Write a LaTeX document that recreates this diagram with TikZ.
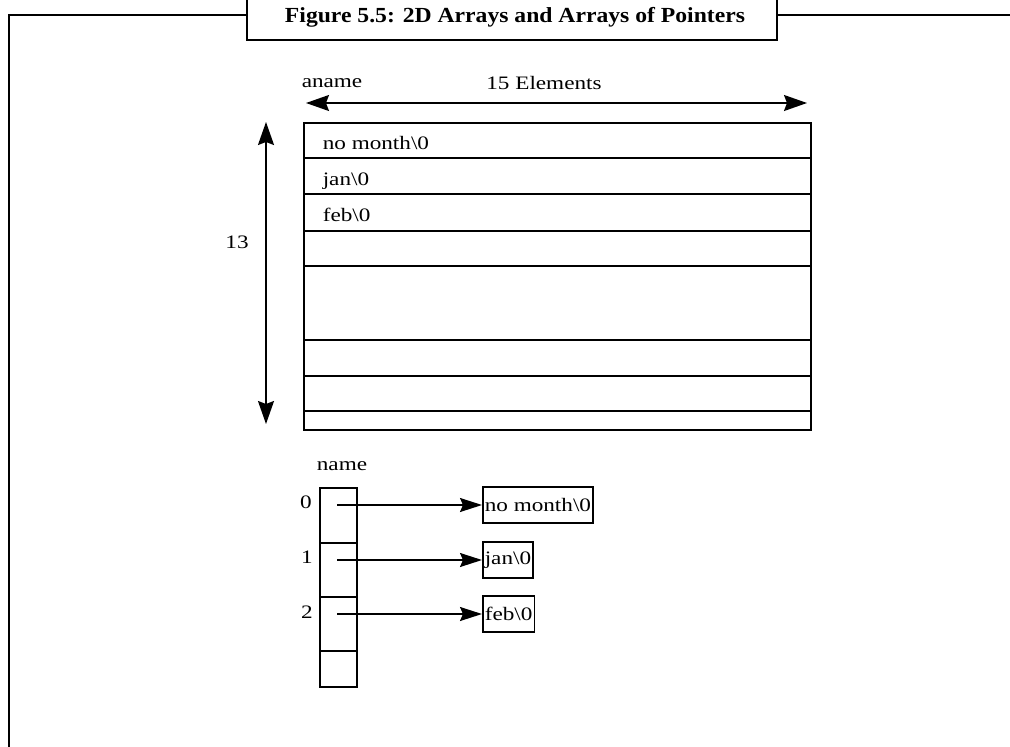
\documentclass[tikz,border=0pt]{standalone}
\usepackage{fontspec}
\setmainfont{Liberation Serif}
\newfontfamily\bmfont[FakeStretch=1.22]{Liberation Serif}
\newfontfamily\titlefont[FakeStretch=1.1]{Liberation Serif}
\usetikzlibrary{arrows.meta}
\begin{document}
\begin{tikzpicture}[x=1pt,y=-1pt,line width=1.6pt,
  frameline/.style={line width=2.8pt},
  lbl/.style={font=\bmfont\fontsize{19}{21}\selectfont,inner sep=0pt},
  cell/.style={draw,minimum width=37pt,inner sep=0pt,anchor=north west},
  strbox/.style={draw,minimum height=36pt,inner xsep=2pt,inner ysep=0pt,anchor=west,font=\bmfont\fontsize{19}{21}\selectfont},
  tip/.style={-{Stealth[length=22pt,width=14pt,inset=3pt]}},
  dtip/.style={{Stealth[length=23pt,width=16pt,inset=3pt]}-{Stealth[length=23pt,width=16pt,inset=3pt]}}]
\useasboundingbox (0,0) rectangle (1010,747);
% frame
\draw[frameline] (9,749) -- (9,15) -- (247,15);
\draw[frameline] (777,15) -- (1012,15);
\draw[frameline] (247,-3) -- (247,40) -- (777,40) -- (777,-3);
\node[anchor=base,inner sep=0pt,font=\titlefont\bfseries\fontsize{21.5}{24}\selectfont] (title) at (515,22) {Figure 5.5: 2D Arrays and Arrays of Pointers};
% 2D array
\node[draw,minimum width=507pt,minimum height=307pt,inner sep=0pt,anchor=north west] (arr) at (303,122) {};
\foreach \yy in {158,194,231,266,340,376,411}
  \draw (arr.west |- 0,\yy) -- (arr.east |- 0,\yy);
\node[lbl,anchor=base west] (r0) at (322,149) {no month\textbackslash 0};
\node[lbl,anchor=base west] (r1) at (322,185) {jan\textbackslash 0};
\node[lbl,anchor=base west] (r2) at (322,221) {feb\textbackslash 0};
% dimension arrows
\coordinate (hl) at (306,103);
\coordinate (hr) at (807,103);
\draw[dtip] (hl) -- (hr);
\coordinate (vt) at (266,122);
\coordinate (vb) at (266,424);
\draw[dtip] (vt) -- (vb);
\node[lbl] (aname) at (332,83) {aname};
\node[lbl] (elems) at (544,83) {15 Elements};
\node[lbl] (thirteen) at (237,242) {13};
% array of pointers
\node[lbl] (name) at (342,466) {name};
\node[cell,minimum height=55pt] (p0) at (319,487) {};
\node[cell,minimum height=54pt] (p1) at (319,542) {};
\node[cell,minimum height=54pt] (p2) at (319,596) {};
\node[cell,minimum height=36pt] (p3) at (319,650) {};
\node[lbl] (i0) at (306,502) {0};
\node[lbl] (i1) at (307,557) {1};
\node[lbl] (i2) at (307,612) {2};
\node[strbox] (s0) at (482,505) {no month\textbackslash 0};
\node[strbox] (s1) at (482,560) {jan\textbackslash 0};
\node[strbox] (s2) at (482,614) {feb\textbackslash 0};
\coordinate (c0) at (337,505);
\coordinate (c1) at (337,560);
\coordinate (c2) at (337,614);
\draw[tip] (c0) -- (s0.west);
\draw[tip] (c1) -- (s1.west);
\draw[tip] (c2) -- (s2.west);
\end{tikzpicture}
\end{document}
